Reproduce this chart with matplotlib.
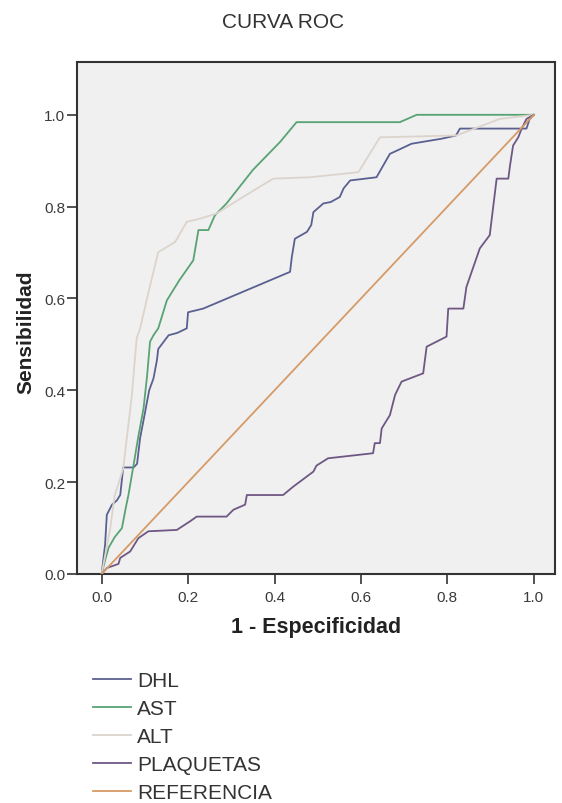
import matplotlib
matplotlib.use("Agg")
import matplotlib.pyplot as plt

plt.rcParams['font.family'] = ['Liberation Sans', 'DejaVu Sans']

# ---- data ----
series_names = ["DHL", "AST", "ALT", "PLAQUETAS", "REFERENCIA"]

dhl_x = [0, 0.008, 0.012, 0.024, 0.035, 0.043, 0.05, 0.074, 0.082, 0.089, 0.1, 0.11, 0.12, 0.128,
         0.131, 0.143, 0.155, 0.175, 0.197, 0.2, 0.235, 0.436, 0.44, 0.447, 0.475, 0.485, 0.49,
         0.513, 0.53, 0.551, 0.56, 0.575, 0.636, 0.656, 0.667, 0.69, 0.717, 0.787, 0.82, 0.829,
         0.983, 0.99, 1.0]
dhl_y = [0, 0.064, 0.129, 0.151, 0.16, 0.172, 0.232, 0.232, 0.24, 0.296, 0.35, 0.4, 0.426, 0.466,
         0.49, 0.505, 0.52, 0.525, 0.535, 0.57, 0.578, 0.658, 0.69, 0.73, 0.745, 0.76, 0.788,
         0.807, 0.81, 0.821, 0.84, 0.857, 0.864, 0.897, 0.915, 0.925, 0.937, 0.948, 0.955, 0.97,
         0.97, 0.99, 1.0]

ast_x = [0, 0.008, 0.016, 0.03, 0.047, 0.055, 0.062, 0.074, 0.085, 0.097, 0.105, 0.112, 0.12,
         0.131, 0.151, 0.18, 0.212, 0.224, 0.247, 0.262, 0.289, 0.35, 0.413, 0.451, 0.69, 0.729, 1.0]
ast_y = [0, 0.03, 0.057, 0.08, 0.1, 0.14, 0.172, 0.238, 0.3, 0.361, 0.43, 0.506, 0.52,
         0.535, 0.596, 0.64, 0.683, 0.749, 0.749, 0.781, 0.807, 0.88, 0.941, 0.984, 0.984, 1.0, 1.0]

alt_x = [0, 0.01, 0.02, 0.03, 0.05, 0.07, 0.081, 0.089, 0.11, 0.131, 0.17, 0.197, 0.228, 0.266,
         0.32, 0.397, 0.482, 0.594, 0.644, 0.821, 0.921, 1.0]
alt_y = [0, 0.05, 0.1, 0.17, 0.23, 0.39, 0.513, 0.535, 0.62, 0.701, 0.723, 0.767, 0.774, 0.785,
         0.817, 0.861, 0.864, 0.875, 0.951, 0.955, 0.991, 1.0]

plq_x = [0, 0.012, 0.039, 0.043, 0.066, 0.085, 0.108, 0.174, 0.205, 0.22, 0.289, 0.305, 0.332,
         0.336, 0.42, 0.443, 0.49, 0.497, 0.524, 0.628, 0.632, 0.644, 0.648, 0.667, 0.679, 0.694,
         0.744, 0.752, 0.798, 0.802, 0.837, 0.844, 0.875, 0.898, 0.914, 0.941, 0.945, 0.952,
         0.964, 0.972, 0.983, 1.0]
plq_y = [0, 0.013, 0.022, 0.035, 0.049, 0.078, 0.093, 0.096, 0.115, 0.125, 0.125, 0.14, 0.151,
         0.172, 0.172, 0.19, 0.223, 0.236, 0.252, 0.263, 0.285, 0.285, 0.317, 0.346, 0.39, 0.419,
         0.437, 0.495, 0.517, 0.578, 0.578, 0.625, 0.709, 0.738, 0.861, 0.861, 0.89, 0.933,
         0.951, 0.97, 0.991, 1.0]

ref_x = [0, 1]
ref_y = [0, 1]

x_ticks = [0.0, 0.2, 0.4, 0.6, 0.8, 1.0]
y_ticks = [0.0, 0.2, 0.4, 0.6, 0.8, 1.0]

colors = ["#5a6090", "#58a373", "#dcd4cc", "#6f5784", "#d69a66"]

# ---- figure ----
fig = plt.figure(figsize=(5.62, 8.04), dpi=100)
fig.patch.set_facecolor("white")
ax = fig.add_axes([77 / 562, 1 - 575 / 804, (555 - 77) / 562, (575 - 63) / 804])
ax.set_facecolor("#f0f0f0")

data = [(dhl_x, dhl_y), (ast_x, ast_y), (alt_x, alt_y), (plq_x, plq_y), (ref_x, ref_y)]
order = [4, 2, 1, 0, 3]
handles = [None] * 5
for i in order:
    xs, ys = data[i]
    ln, = ax.plot(xs, ys, color=colors[i], lw=1.3, label=series_names[i], zorder=2 + i)
    handles[i] = ln

ax.set_xlim(-0.057, 1.049)
ax.set_ylim(0.0, 1.115)
ax.set_xticks(x_ticks)
ax.set_yticks(y_ticks)
ax.set_xticklabels([f"{t:.1f}" for t in x_ticks])
ax.set_yticklabels([f"{t:.1f}" for t in y_ticks])
ax.tick_params(direction="out", length=7.5, width=1.2, color="#333333", labelsize=11,
               labelcolor="#3a3a3a")
ax.tick_params(axis="x", pad=4)
ax.tick_params(axis="y", pad=1)
for sp in ax.spines.values():
    sp.set_color("#333333")
    sp.set_linewidth(1.5)

ax.set_xlabel("1 - Especificidad", fontsize=15.5, fontweight="bold", color="#222222")
ax.xaxis.label.set_va("center")
ax.xaxis.set_label_coords(0.5, -0.1016)
ax.set_ylabel("Sensibilidad", fontsize=15, fontweight="bold", color="#222222")
ax.yaxis.label.set_va("center")
ax.yaxis.set_label_coords(-0.107, 0.475)

fig.text(283 / 562, 1 - 23 / 804, "CURVA ROC", ha="center", va="center",
         fontsize=15, color="#333333")

leg = fig.legend(handles=handles, labels=series_names, loc="upper left",
                 bbox_to_anchor=(93 / 562, 1 - 672 / 804), frameon=False,
                 fontsize=15, handlelength=1.8, handletextpad=0.33, labelspacing=0.43,
                 borderpad=0, borderaxespad=0)
for t in leg.get_texts():
    t.set_color("#333333")

fig.savefig("out.png", dpi=100, facecolor="white")
